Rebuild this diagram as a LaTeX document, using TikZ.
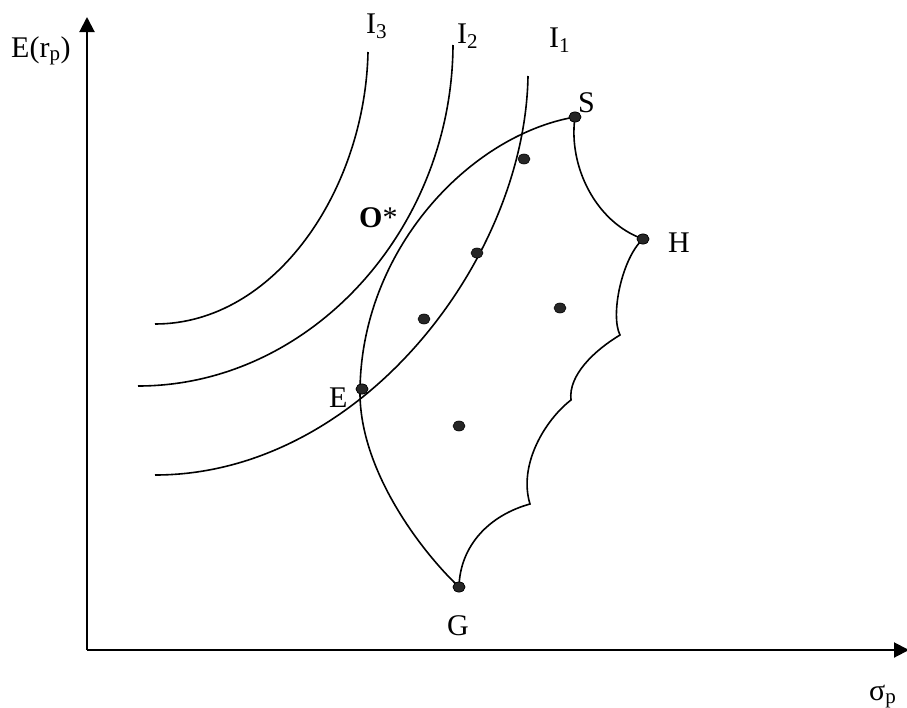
\documentclass[tikz,border=0pt]{standalone}
\usepackage{fontspec}
\setmainfont{Liberation Serif}
\usetikzlibrary{arrows.meta,shapes.geometric}
\begin{document}
\begin{tikzpicture}[x=1pt,y=-1pt,
  axis/.style={line width=2pt,-{Triangle[width=15pt,length=15pt]}},
  curve/.style={line width=1.6pt},
  dot/.style={ellipse,fill=black!85,draw=black,line width=0.6pt,minimum width=12pt,minimum height=10pt,inner sep=0pt},
  lbl/.style={font=\fontsize{30}{35}\selectfont,inner sep=0pt,anchor=base west}
]
\useasboundingbox (0,0) rectangle (907,707);
% axes
\coordinate (orig) at (87,650);
\coordinate (ytip) at (87,17);
\coordinate (xtip) at (909,650);
\draw[axis] (orig) -- (ytip);
\draw[axis] (orig) -- (xtip);
\node[lbl] (ylab) at (11,57) {E(r\textsubscript{p})};
\node[lbl] (xlab) at (869,700) {σ\textsubscript{p}};
% indifference curves
\coordinate (i3a) at (368,52);  \coordinate (i3b) at (155,324);
\coordinate (i2a) at (453,45);  \coordinate (i2b) at (138,386);
\coordinate (i1a) at (528,76);  \coordinate (i1b) at (155,475);
\draw[curve] (i3a) .. controls (365,190) and (275,324) .. (i3b);
\draw[curve] (i2a) .. controls (452,230) and (310,386) .. (i2b);
\draw[curve] (i1a) .. controls (525,260) and (360,475) .. (i1b);
\node[lbl] (l3) at (366,33) {I\textsubscript{3}};
\node[lbl] (l2) at (457,43) {I\textsubscript{2}};
\node[lbl] (l1) at (549,47) {I\textsubscript{1}};
% opportunity set
\coordinate (Eb) at (360,393);
\coordinate (c1) at (620,335);
\coordinate (c2) at (571,400);
\coordinate (c3) at (530,504);
\node[dot] (S) at (575,117) {};
\node[dot] (H) at (643,239) {};
\node[dot] (G) at (459,587) {};
\node[dot] (E) at (362,389) {};
\draw[curve] (S.center) .. controls (470,135) and (360,250) .. (Eb)
  .. controls (360,470) and (420,550) .. (G.center);
\draw[curve] (S.center) .. controls (568,165) and (595,222) .. (H.center)
  .. controls (622,258) and (610,315) .. (c1)
  .. controls (595,350) and (568,375) .. (c2)
  .. controls (545,420) and (518,465) .. (c3)
  .. controls (490,515) and (460,545) .. (G.center);
\node[dot] (S) at (575,117) {};
\node[dot] (H) at (643,239) {};
\node[dot] (G) at (459,587) {};
\node[dot] (E) at (362,389) {};
\node[dot] (p1) at (524,159) {};
\node[dot] (p2) at (477,253) {};
\node[dot] (p3) at (424,319) {};
\node[dot] (p4) at (560,308) {};
\node[dot] (p5) at (459,426) {};
\node[lbl] (lS) at (578,112) {S};
\node[lbl] (lH) at (668,252) {H};
\node[lbl] (lG) at (447,635) {G};
\node[lbl] (lE) at (329,407) {E};
\node[lbl] (lO) at (359,227) {\textbf{O}*};
\end{tikzpicture}
\end{document}
